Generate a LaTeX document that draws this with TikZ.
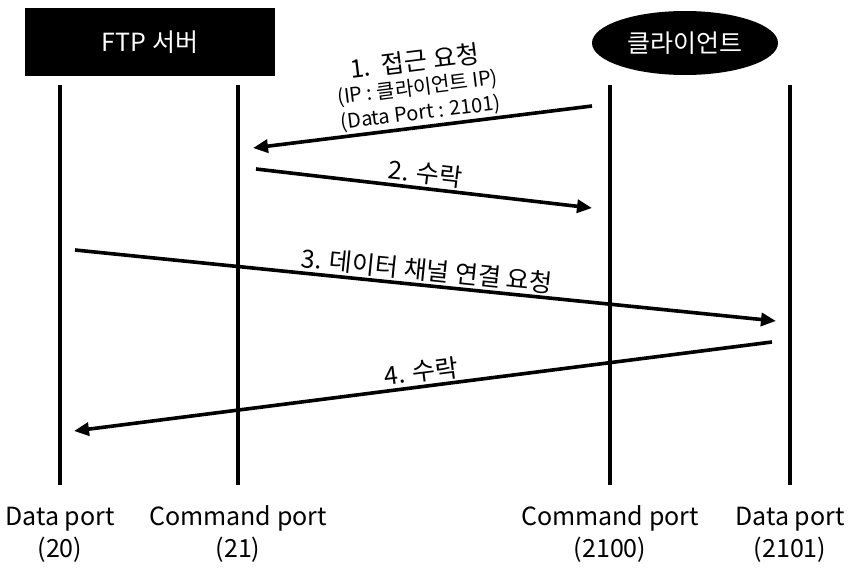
\documentclass[tikz,border=0pt]{standalone}
\usepackage{fontspec}
\setmainfont{Noto Sans CJK KR}
\usetikzlibrary{arrows.meta,shapes.geometric}

\newcommand{\subsz}{\fontsize{20}{24}\selectfont}

\begin{document}
\begin{tikzpicture}[
    x=1pt, y=-1pt,
    life/.style={line width=3.6pt},
    msg/.style={line width=3.6pt, -{Triangle[length=15pt,width=13pt]}},
    who/.style={fill=black, text=white, font=\fontsize{25}{27}\selectfont},
    lbl/.style={font=\fontsize{25}{27}\selectfont, inner sep=2pt, align=center},
    port/.style={font=\fontsize{25}{32}\selectfont, align=center, anchor=north},
  ]
  \useasboundingbox (0,0) rectangle (854,570);

  % --- partecipanti ---
  \node[who, minimum width=250pt, minimum height=68pt] (srv) at (150,42) {FTP 서버};
  \node[who, ellipse, minimum width=186pt, minimum height=64pt] (cli) at (685,43) {클라이언트};

  % --- linee di vita ---
  \foreach \n/\x in {sd/60, sc/238, cc/610, cd/790} {
    \coordinate (\n t) at (\x,85);
    \coordinate (\n b) at (\x,485);
    \draw[life] (\n t) -- (\n b);
  }

  % --- porte ---
  \node[port] (psd) at (60,500) {\strut Data port\\(20)};
  \node[port] (psc) at (238,500) {\strut Command port\\(21)};
  \node[port] (pcc) at (610,500) {\strut Command port\\(2100)};
  \node[port] (pcd) at (790,500) {\strut Data port\\(2101)};

  % --- estremi dei messaggi ---
  \coordinate (m1s) at (592,106);
  \coordinate (m1e) at (253,148);
  \coordinate (m2s) at (256,169);
  \coordinate (m2e) at (592,208);
  \coordinate (m3s) at (75,250);
  \coordinate (m3e) at (776,321);
  \coordinate (m4s) at (772,342);
  \coordinate (m4e) at (74,431);

  % --- messaggi ---
  \draw[msg] (m1s) -- node[lbl, midway, above, sloped] (t1)
    {1.\ \ 접근 요청\\[-3pt]{\subsz (IP : 클라이언트 IP)}\\[-2pt]{\subsz (Data Port : 2101)}} (m1e);
  \draw[msg] (m2s) -- node[lbl, midway, above, sloped] (t2) {2. 수락} (m2e);
  \draw[msg] (m3s) -- node[lbl, midway, above, sloped] (t3) {3. 데이터 채널 연결 요청} (m3e);
  \draw[msg] (m4s) -- node[lbl, midway, above, sloped] (t4) {4. 수락} (m4e);

\end{tikzpicture}
\end{document}
